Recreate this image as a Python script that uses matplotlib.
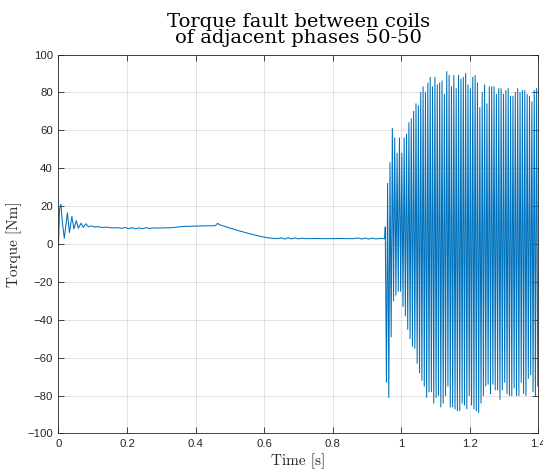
import matplotlib
matplotlib.use("Agg")
import matplotlib.pyplot as plt
import numpy as np

# Healthy part of the run (start-up transient, load change, steady state)
pre_time = [0.000, 0.003, 0.007, 0.011, 0.017, 0.026, 0.032, 0.039, 0.045, 0.052,
            0.058, 0.066, 0.072, 0.080, 0.087, 0.097, 0.105, 0.115, 0.125, 0.140,
            0.155, 0.170, 0.185, 0.195, 0.205, 0.215, 0.225, 0.235, 0.245, 0.255,
            0.265, 0.275, 0.290, 0.310, 0.330, 0.350, 0.370, 0.390, 0.410, 0.430,
            0.450, 0.458, 0.464, 0.470, 0.500, 0.530, 0.560, 0.590, 0.610, 0.625,
            0.640, 0.650, 0.660, 0.670, 0.680, 0.690, 0.700, 0.710, 0.720, 0.740,
            0.780, 0.820, 0.860, 0.875, 0.885, 0.895, 0.905, 0.915, 0.925, 0.940,
            0.952]
pre_torque = [0.0, 18.0, 21.0, 12.0, 3.0, 16.5, 6.0, 14.5, 8.0, 12.3,
              8.3, 11.0, 8.8, 10.7, 9.1, 9.6, 8.9, 9.2, 8.7, 8.9,
              8.5, 8.6, 8.3, 8.7, 8.1, 8.6, 8.0, 8.5, 8.1, 8.6,
              8.2, 8.5, 8.4, 8.5, 8.6, 9.0, 9.3, 9.4, 9.5, 9.6,
              9.6, 9.7, 10.9, 10.2, 8.4, 6.8, 5.3, 4.0, 3.3, 3.0,
              2.8, 3.3, 2.6, 3.3, 2.7, 3.2, 2.7, 3.1, 2.8, 2.9,
              2.8, 2.9, 2.8, 3.2, 2.6, 3.2, 2.6, 3.1, 2.7, 2.9,
              2.8]

# Fault: one peak and one trough per oscillation cycle
fault_start = 0.9535
fault_period = 0.0069
fault_max = [9, 32, 43, 61, 56, 48, 56, 48, 56, 58,
             64, 66, 70, 74, 73, 80, 83, 80, 85, 88,
             83, 88, 84, 85, 86, 79, 91, 89, 83, 89,
             82, 89, 87, 88, 90, 84, 82, 88, 89, 85,
             72, 80, 84, 74, 83, 83, 83, 79, 82, 82,
             79, 81, 82, 78, 78, 80, 82, 80, 81, 81,
             79, 78, 75, 81, 82]
fault_min = [-73, -81, -49, -30, -27, -25, -25, -33, -38, -45,
             -50, -54, -55, -63, -68, -72, -75, -81, -78, -78,
             -84, -81, -80, -86, -84, -80, -75, -86, -86, -87,
             -88, -88, -84, -85, -87, -80, -85, -87, -88, -89,
             -84, -80, -75, -74, -79, -74, -77, -77, -82, -77,
             -73, -79, -80, -80, -76, -80, -80, -73, -79, -80,
             -71, -69, -78, -80, -75]

x_ticks = [0, 0.2, 0.4, 0.6, 0.8, 1.0, 1.2, 1.4]
x_tick_labels = ["0", "0.2", "0.4", "0.6", "0.8", "1", "1.2", "1.4"]
y_ticks = [-100, -80, -60, -40, -20, 0, 20, 40, 60, 80, 100]

# interleave peaks and troughs into one trace
n_cycles = len(fault_max)
peak_t = fault_start + fault_period * np.arange(n_cycles)
fault_t = np.column_stack([peak_t, peak_t + fault_period / 2]).ravel()
fault_y = np.column_stack([fault_max, fault_min]).ravel()

time = np.concatenate([pre_time, fault_t])
torque = np.concatenate([pre_torque, fault_y])

edge = "#262626"
serif = "cmr10"

fig = plt.figure(figsize=(5.43, 4.76), dpi=100)
ax = fig.add_axes([0.1077, 0.0893, 0.8836, 0.7962])

ax.plot(time, torque, color="#0072BD", linewidth=0.75)

ax.set_xlim(0, 1.4)
ax.set_ylim(-100, 100)
ax.set_xticks(x_ticks)
ax.set_xticklabels(x_tick_labels)
ax.set_yticks(y_ticks)
ax.grid(True, color="#262626", alpha=0.15, linewidth=0.6)
ax.set_axisbelow(True)

ax.tick_params(direction="in", length=4, width=0.6, top=True, right=True,
               colors=edge, labelsize=8.2, pad=4)
for label in ax.get_xticklabels() + ax.get_yticklabels():
    label.set_family("Liberation Sans")
for spine in ax.spines.values():
    spine.set_color(edge)
    spine.set_linewidth(0.6)

ax.set_xlabel("Time [s]", family=serif, fontsize=11, color=edge, labelpad=3)
ax.set_ylabel("Torque [Nm]", family=serif, fontsize=11, color=edge, labelpad=4)
ax.set_title("Torque fault between coils\nof adjacent phases 50-50",
             family="DejaVu Serif", fontsize=14, color="black", pad=8,
             linespacing=0.92)

fig.savefig("out.png", dpi=100)
